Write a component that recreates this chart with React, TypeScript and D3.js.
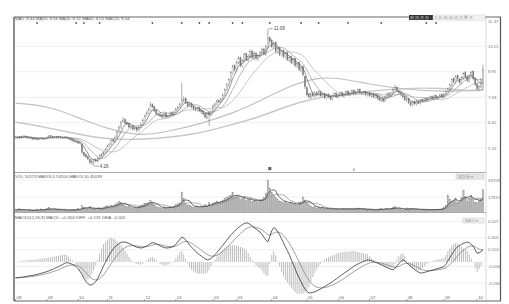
import React from 'react';
import * as d3 from 'd3';

// daily candles (Aug .. Oct)
const opens = [
  5.68,5.71,5.65,5.73,5.67,5.76,5.72,5.64,5.70,5.65, 5.59,5.64,5.57,5.63,5.67,5.60,5.65,5.69,5.77,5.73,
  5.67,5.72,5.66,5.74,5.70,5.64,5.71,5.67,5.63,5.59, 5.53,5.49,5.47,5.38,5.35,4.93,4.83,4.74,4.60,4.42,
  4.49,4.60,4.50,4.63,4.76,4.86,4.93,5.08,5.27,5.33, 5.58,5.48,5.68,5.93,6.18,6.48,6.58,6.42,6.38,6.18,
  6.27,6.08,6.18,6.02,6.18,6.33,6.52,6.78,6.88,7.02, 7.33,7.22,7.02,6.83,6.82,6.78,6.68,6.88,6.68,6.73,
  6.93,6.78,6.93,7.08,7.18,7.33,7.50,7.62,7.42,7.22, 7.38,7.22,7.12,7.02,7.18,7.03,6.97,6.88,6.65,6.93,
  6.78,6.92,7.22,7.33,7.52,7.43,7.58,7.78,8.02,8.28, 8.52,8.85,9.25,9.00,9.38,9.65,9.20,9.48,9.85,9.50,
  9.68,9.98,9.60,9.88,9.55,9.72,9.88,10.08,9.80,10.15, 10.65,10.50,10.15,10.40,9.90,10.15,9.75,10.00,9.65,9.90,
  9.50,9.70,9.35,9.60,9.20,9.40,9.00,9.20,8.70,8.15, 7.85,7.65,7.88,7.72,7.92,7.78,7.98,7.72,7.88,7.62,
  7.82,7.72,7.58,7.78,7.88,7.68,7.78,7.92,7.72,7.82, 7.98,7.78,7.88,8.02,7.82,7.92,8.08,7.92,7.82,7.98,
  7.78,7.92,7.72,7.88,7.68,7.82,7.68,7.52,7.62,7.48, 7.68,7.88,7.72,7.88,8.02,8.18,7.98,7.92,7.82,7.72,
  7.52,7.62,7.42,7.28,7.48,7.32,7.52,7.38,7.58,7.48, 7.62,7.52,7.62,7.72,7.58,7.78,7.62,7.72,7.82,7.68,
  7.82,7.98,8.08,8.28,8.60,8.42,8.75,8.58,8.38,8.62, 8.90,8.72,8.48,8.78,8.95,8.62,8.35,8.05,8.18,8.10,
];
const highs = [
  5.76,5.74,5.76,5.76,5.79,5.78,5.75,5.73,5.72,5.68, 5.66,5.67,5.65,5.70,5.69,5.67,5.74,5.80,5.79,5.75,
  5.75,5.74,5.77,5.76,5.72,5.73,5.73,5.69,5.66,5.62, 5.56,5.52,5.50,5.47,5.40,4.98,4.88,4.78,4.65,4.58,
  4.63,4.64,4.70,4.84,4.90,5.00,5.16,5.32,5.42,5.62, 5.62,5.78,6.02,6.28,6.52,6.68,6.62,6.48,6.42,6.32,
  6.32,6.22,6.22,6.26,6.42,6.62,6.82,6.98,7.14,7.45, 7.38,7.26,7.06,6.90,6.86,6.82,6.92,6.92,6.80,6.96,
  6.98,7.02,7.16,7.26,7.42,8.40,7.72,7.66,7.46,7.42, 7.42,7.26,7.16,7.22,7.22,7.08,7.00,6.92,6.96,6.98,
  7.02,7.32,7.42,7.58,7.56,7.66,7.88,8.12,8.38,8.62, 8.98,9.30,9.32,9.48,9.72,9.70,9.58,9.90,9.88,9.80,
  10.05,10.02,9.95,9.92,9.82,9.98,10.15,10.12,10.28,11.09, 10.70,10.58,10.45,10.45,10.20,10.20,10.02,10.05,9.92,9.95,
  9.72,9.75,9.62,9.65,9.42,9.45,9.22,9.25,8.75,8.22, 7.92,7.92,7.95,7.98,7.98,8.02,8.02,7.92,7.92,7.88,
  7.88,7.78,7.80,7.92,7.92,7.86,7.96,7.96,7.90,8.00, 8.04,7.96,8.06,8.08,8.00,8.10,8.12,7.96,8.00,8.02,
  7.96,7.96,7.90,7.92,7.86,7.88,7.72,7.66,7.66,7.76, 7.92,7.92,7.96,8.12,8.30,8.22,8.04,7.96,7.86,7.76,
  7.66,7.66,7.46,7.52,7.52,7.56,7.56,7.60,7.62,7.66, 7.68,7.70,7.76,7.76,7.80,7.82,7.74,7.86,7.86,7.90,
  8.00,8.16,8.36,8.62,8.66,8.78,8.82,8.65,8.72,8.92, 8.98,8.78,8.82,8.98,9.02,8.68,8.40,8.28,8.62,9.30,
];
const lows = [
  5.62,5.60,5.62,5.62,5.64,5.66,5.62,5.60,5.58,5.55, 5.55,5.54,5.54,5.60,5.57,5.58,5.62,5.66,5.68,5.64,
  5.64,5.62,5.62,5.64,5.60,5.62,5.62,5.58,5.54,5.48, 5.44,5.42,5.36,5.34,4.88,4.72,4.66,4.55,4.36,4.32,
  4.26,4.46,4.46,4.60,4.72,4.80,4.88,5.04,5.22,5.28, 5.42,5.44,5.64,5.88,6.12,6.42,6.32,6.28,6.14,6.12,
  6.02,6.04,5.95,5.98,6.14,6.28,6.48,6.72,6.84,6.98, 7.12,6.94,6.78,6.74,6.68,6.62,6.64,6.62,6.64,6.68,
  6.74,6.74,6.88,7.02,7.14,7.28,7.42,7.34,7.18,7.18, 7.12,7.02,6.98,6.98,6.94,6.88,6.78,6.62,6.60,6.25,
  6.72,6.88,7.18,7.28,7.38,7.38,7.54,7.74,7.98,8.22, 8.46,8.80,8.96,8.96,9.32,9.18,9.14,9.42,9.48,9.44,
  9.62,9.58,9.54,9.52,9.50,9.66,9.82,9.78,9.74,10.08, 10.30,10.12,10.08,9.88,9.84,9.72,9.70,9.62,9.60,9.48,
  9.44,9.34,9.30,9.18,9.14,8.98,8.94,8.72,8.10,7.72, 7.62,7.60,7.68,7.66,7.74,7.72,7.70,7.66,7.60,7.56,
  7.64,7.54,7.52,7.72,7.64,7.62,7.72,7.70,7.66,7.76, 7.74,7.74,7.82,7.80,7.78,7.88,7.84,7.80,7.78,7.76,
  7.72,7.70,7.66,7.64,7.62,7.58,7.48,7.44,7.42,7.44, 7.62,7.70,7.68,7.84,7.98,7.94,7.84,7.74,7.62,7.50,
  7.44,7.34,7.22,7.24,7.30,7.26,7.34,7.32,7.44,7.42, 7.48,7.46,7.58,7.54,7.52,7.60,7.56,7.66,7.64,7.62,
  7.78,7.92,8.02,8.22,8.38,8.36,8.52,8.32,8.32,8.56, 8.62,8.44,8.42,8.72,8.52,8.24,8.02,7.98,8.12,8.04,
];
const closes = [
  5.70,5.66,5.72,5.68,5.75,5.71,5.66,5.69,5.64,5.60, 5.63,5.58,5.62,5.66,5.61,5.64,5.70,5.76,5.72,5.68,
  5.71,5.67,5.73,5.69,5.65,5.70,5.66,5.62,5.58,5.52, 5.48,5.46,5.40,5.43,4.95,4.80,4.72,4.62,4.45,4.50,
  4.58,4.52,4.65,4.78,4.85,4.95,5.10,5.25,5.35,5.55, 5.50,5.70,5.95,6.20,6.45,6.55,6.40,6.35,6.20,6.25,
  6.10,6.15,6.05,6.20,6.35,6.55,6.75,6.90,7.05,7.30, 7.20,7.00,6.85,6.80,6.75,6.70,6.85,6.70,6.75,6.90,
  6.80,6.95,7.10,7.20,7.35,7.55,7.60,7.40,7.25,7.35, 7.20,7.10,7.05,7.15,7.00,6.95,6.85,6.70,6.90,6.80,
  6.95,7.25,7.35,7.50,7.45,7.60,7.80,8.05,8.30,8.55, 8.90,9.20,9.05,9.40,9.60,9.25,9.50,9.80,9.55,9.70,
  9.95,9.65,9.85,9.60,9.75,9.90,10.05,9.85,10.20,10.60, 10.45,10.20,10.35,9.95,10.10,9.80,9.95,9.70,9.85,9.55,
  9.65,9.40,9.55,9.25,9.35,9.05,9.15,8.80,8.20,7.80, 7.70,7.85,7.75,7.90,7.80,7.95,7.75,7.85,7.65,7.80,
  7.70,7.60,7.75,7.85,7.70,7.80,7.90,7.75,7.85,7.95, 7.80,7.90,8.00,7.85,7.95,8.05,7.90,7.85,7.95,7.80,
  7.90,7.75,7.85,7.70,7.80,7.65,7.55,7.60,7.50,7.70, 7.85,7.75,7.90,8.05,8.15,8.00,7.90,7.80,7.70,7.55,
  7.60,7.40,7.30,7.45,7.35,7.50,7.40,7.55,7.50,7.60, 7.55,7.65,7.70,7.60,7.75,7.65,7.70,7.80,7.70,7.85,
  7.95,8.10,8.30,8.55,8.45,8.70,8.60,8.40,8.65,8.85, 8.70,8.50,8.75,8.90,8.60,8.30,8.10,8.20,8.55,9.05,
];
const volumes = [
  6200,5400,7100,5800,6600,5200,4900,6300,5600,5100, 5800,6700,5300,6900,5500,6100,7400,8200,6800,5900,
  6400,5700,6800,6200,5400,6000,5600,5200,5900,6500, 6100,5800,7200,6600,9800,8400,7600,6900,8800,7400,
  6800,6300,7100,7800,6900,8200,9100,9800,8600,10400, 9200,10800,12400,13600,12800,11200,9600,8800,9400,8200,
  7800,8400,7600,8900,9700,10600,11800,12200,12900,14800, 12600,10200,8900,8400,7900,7200,8600,7700,8100,9200,
  8400,9600,10800,11600,12400,22600,16800,12200,10400,9800, 9200,8400,8800,9600,8200,8900,9400,10800,9600,12800,
  10600,12400,13200,14200,12800,13600,15200,16400,17200,18400, 19600,22400,17800,19200,18600,15800,16900,17600,14800,15600,
  16200,13800,14600,15200,13400,14800,15600,17800,21600,33700, 26400,21800,19600,17200,15400,14200,13600,12800,13800,12200,
  11600,12600,10800,11200,10200,12800,13400,18000,15200,12400, 10800,9600,8400,8900,7800,8200,7400,7900,6800,7200,
  6600,7100,6400,6900,7300,6200,6700,7600,6500,7000, 6300,6800,7400,6600,7100,7800,6400,6900,6200,6700,
  5900,6400,5800,6300,5600,6100,6900,7400,6500,6800, 7200,6600,7400,8200,8800,7600,6800,6200,5800,6400,
  7800,6900,7400,6600,6100,6800,6300,5900,6400,5700, 6200,5800,6600,6100,5700,6300,6800,6400,7200,8600,
  10200,19800,15600,13800,14600,16800,12400,13200,17600,24400, 18600,14200,16800,19400,15600,13200,12800,14600,16400,24600,
];

// MACD DIF per candle
const difVals = [
  -0.200,-0.198,-0.195,-0.192,-0.188,-0.184,-0.180,-0.176,-0.172,-0.168, -0.163,-0.157,-0.150,-0.144,-0.137,-0.130,-0.122,-0.113,-0.103,-0.093,
  -0.082,-0.071,-0.060,-0.046,-0.033,-0.020,-0.010,-0.012,-0.020,-0.030, -0.042,-0.060,-0.085,-0.118,-0.160,-0.205,-0.245,-0.272,-0.290,-0.288,
  -0.272,-0.248,-0.210,-0.160,-0.105,-0.050,-0.005,0.045,0.090,0.130, 0.165,0.192,0.212,0.232,0.245,0.250,0.248,0.242,0.232,0.220,
  0.207,0.195,0.186,0.179,0.175,0.178,0.188,0.200,0.215,0.230, 0.240,0.238,0.228,0.215,0.202,0.190,0.180,0.175,0.176,0.180,
  0.188,0.200,0.222,0.250,0.282,0.310,0.300,0.275,0.245,0.212, 0.185,0.160,0.135,0.110,0.090,0.072,0.055,0.038,0.025,0.030,
  0.045,0.066,0.090,0.118,0.148,0.180,0.210,0.240,0.272,0.305, 0.335,0.360,0.385,0.410,0.432,0.450,0.468,0.482,0.490,0.485,
  0.470,0.450,0.430,0.412,0.393,0.375,0.345,0.310,0.275,0.250, 0.320,0.390,0.430,0.415,0.380,0.340,0.290,0.240,0.190,0.140,
  0.090,0.030,-0.030,-0.090,-0.150,-0.200,-0.250,-0.300,-0.340,-0.370, -0.390,-0.388,-0.383,-0.375,-0.365,-0.352,-0.338,-0.323,-0.310,-0.295,
  -0.280,-0.265,-0.250,-0.232,-0.214,-0.196,-0.178,-0.160,-0.142,-0.125, -0.108,-0.090,-0.072,-0.055,-0.040,-0.028,-0.016,-0.005,0.006,0.016,
  0.025,0.022,0.015,0.006,-0.004,-0.015,-0.025,-0.036,-0.048,-0.060, -0.072,-0.083,-0.092,-0.100,-0.080,-0.050,-0.020,0.005,0.025,0.015,
  -0.010,-0.035,-0.058,-0.075,-0.095,-0.112,-0.128,-0.140,-0.138,-0.132, -0.125,-0.118,-0.110,-0.104,-0.097,-0.090,-0.083,-0.076,-0.068,-0.060,
  -0.030,0.010,0.050,0.090,0.130,0.165,0.190,0.205,0.220,0.232, 0.242,0.250,0.240,0.220,0.195,0.150,0.110,0.115,0.130,0.150,
];
const deaStart = -0.2;

// long moving averages, read at a few dates
const ma60Idx = [0, 18, 35, 49, 64, 79, 94, 110, 125, 140, 154, 166, 181, 197, 219, 239];
const ma60Val = [7.39, 7.24, 6.54, 6.05, 5.75, 6.0, 6.35, 6.84, 7.49, 8.24, 8.68, 8.63, 8.33, 8.09, 7.94, 8.05];
const ma120Idx = [0, 18, 43, 64, 94, 111, 125, 146, 171, 197, 219, 231, 239];
const ma120Val = [6.45, 6.15, 5.6, 5.55, 5.85, 6.35, 6.69, 7.54, 7.89, 8.14, 8.14, 7.99, 8.04];

const monthLabels = ['08', '09', '10', '11', '12', '01', '02', '03', '04', '05', '06', '07', '08', '09', '10'];
const monthStart = [0, 16, 32, 47, 66, 82, 101, 113, 131, 149, 165, 181, 200, 219, 236];
const eventIdx = [11, 31, 35, 43, 70, 85, 94, 99, 111, 116, 130, 146, 155, 170, 187, 210, 215];
const flagIdx = [130, 173];

const priceTicks = [11.47, 10.21, 8.95, 7.68, 6.42, 5.16];
const volTicks = [33709, 17915];
const macdTicks = [0.507, 0.302, 0.153, -0.056, -0.265];

const font = 'Liberation Sans, Arial, sans-serif';

const movAvg = (arr: number[], n: number) =>
  arr.map((_, i) => d3.mean(arr.slice(Math.max(0, i - n + 1), i + 1)) as number);

const ema = (arr: number[], n: number, start: number) => {
  const k = 2 / (n + 1);
  let prev = start;
  return arr.map((v, i) => (i === 0 ? prev : (prev = prev + k * (v - prev))));
};

export default function App() {
  const N = closes.length;
  const left = 14, right = 486, top = 17, bottom = 301;
  const priceBottom = 172.5, volBottom = 212.5;

  const x = d3.scaleLinear().domain([0, N - 1]).range([15.5, 483]);
  const yP = d3.scaleLinear().domain([5.16, 11.47]).range([148, 21]);
  const yV = d3.scaleLinear().domain([17915, 33709]).range([197, 180]);
  const yM = d3.scaleLinear().domain([-0.265, 0.507]).range([283, 221.5]);

  const ma5 = movAvg(closes, 5);
  const ma10 = movAvg(closes, 10);
  const ma20 = movAvg(closes, 20);
  const vma5 = movAvg(volumes, 5);
  const vma10 = movAvg(volumes, 10);

  const dif = difVals;
  const dea = ema(dif, 9, deaStart);
  const hist = dif.map((v, i) => 2 * (v - dea[i]));

  const lineIdx = (ys: (v: number) => number) =>
    d3.line<number>().x((_, i) => x(i)).y((d) => ys(d));
  const smooth = (idx: number[]) =>
    d3.line<number>().x((_, i) => x(idx[i])).y((d) => yP(d)).curve(d3.curveBasis);

  const hiIdx = d3.maxIndex(highs);
  const loIdx = d3.minIndex(lows);

  return (
    <svg width={509} height={304} style={{ position: 'absolute', left: 0, top: 0, background: '#fff' }}
      fontFamily={font}>
      <defs>
        <clipPath id="cp"><rect x={left} y={top} width={right - left} height={priceBottom - top} /></clipPath>
        <clipPath id="cv"><rect x={left} y={priceBottom} width={right - left} height={volBottom - priceBottom} /></clipPath>
        <clipPath id="cm"><rect x={left} y={volBottom} width={right - left} height={bottom - volBottom} /></clipPath>
      </defs>

      {/* grid */}
      {priceTicks.map((t) => (
        <line key={'gp' + t} x1={left} x2={right} y1={yP(t)} y2={yP(t)} stroke="#ececec" strokeWidth={0.8} />
      ))}
      {volTicks.map((t) => (
        <line key={'gv' + t} x1={left} x2={right} y1={yV(t)} y2={yV(t)} stroke="#ececec" strokeWidth={0.8} />
      ))}
      {macdTicks.map((t) => (
        <line key={'gm' + t} x1={left} x2={right} y1={yM(t)} y2={yM(t)} stroke="#ececec" strokeWidth={0.8} />
      ))}

      {/* price panel */}
      <g clipPath="url(#cp)">
        <path d={smooth(ma120Idx)(ma120Val) || ''} fill="none" stroke="#c8c8c8" strokeWidth={1.4} />
        <path d={smooth(ma60Idx)(ma60Val) || ''} fill="none" stroke="#c0c0c0" strokeWidth={1.2} />
        {closes.map((c, i) => {
          const o = opens[i];
          const up = c >= o;
          const y0 = yP(Math.max(o, c));
          const y1 = yP(Math.min(o, c));
          return (
            <g key={i}>
              <line x1={x(i)} x2={x(i)} y1={yP(highs[i])} y2={yP(lows[i])} stroke="#777" strokeWidth={0.6} />
              <rect x={x(i) - 0.55} y={y0} width={1.1} height={Math.max(0.5, y1 - y0)}
                fill={up ? '#fff' : '#777'} stroke="#777" strokeWidth={0.3} />
            </g>
          );
        })}
        <path d={lineIdx(yP)(ma20) || ''} fill="none" stroke="#b0b0b0" strokeWidth={0.7} />
        <path d={lineIdx(yP)(ma10) || ''} fill="none" stroke="#999" strokeWidth={0.7} />
        <path d={lineIdx(yP)(ma5) || ''} fill="none" stroke="#666" strokeWidth={0.7} />
      </g>
      {/* high / low marks */}
      <line x1={x(hiIdx) + 1} x2={x(hiIdx) + 5} y1={yP(highs[hiIdx])} y2={yP(highs[hiIdx])} stroke="#555" strokeWidth={0.5} />
      <text x={x(hiIdx) + 6} y={yP(highs[hiIdx]) + 1.5} fontSize={4.5} fill="#444">{highs[hiIdx].toFixed(2)}</text>
      <line x1={x(loIdx) + 1} x2={x(loIdx) + 5} y1={yP(lows[loIdx])} y2={yP(lows[loIdx])} stroke="#555" strokeWidth={0.5} />
      <text x={x(loIdx) + 6} y={yP(lows[loIdx]) + 1.5} fontSize={4.5} fill="#444">{lows[loIdx].toFixed(2)}</text>

      {/* event markers */}
      {eventIdx.map((i) => (
        <circle key={'ev' + i} cx={x(i)} cy={23} r={0.9} fill="#555" />
      ))}
      <rect x={x(flagIdx[0]) - 1.6} y={167} width={3.2} height={3.2} fill="#666" />
      <text x={x(flagIdx[1])} y={171} fontSize={4} fill="#666" textAnchor="middle">6</text>

      {/* volume panel */}
      <g clipPath="url(#cv)">
        {volumes.map((v, i) => (
          <rect key={'v' + i} x={x(i) - 0.7} y={yV(v)} width={1.4} height={Math.max(0, volBottom - yV(v))}
            fill="#b4b4b4" stroke="#888" strokeWidth={0.3} />
        ))}
        <path d={lineIdx(yV)(vma10) || ''} fill="none" stroke="#999" strokeWidth={0.8} />
        <path d={lineIdx(yV)(vma5) || ''} fill="none" stroke="#444" strokeWidth={0.8} />
      </g>

      {/* macd panel */}
      <g clipPath="url(#cm)">
        {hist.map((h, i) => (
          <line key={'h' + i} x1={x(i)} x2={x(i)} y1={yM(0)} y2={yM(h)} stroke="#a0a0a0" strokeWidth={0.7} />
        ))}
        <path d={lineIdx(yM)(dea) || ''} fill="none" stroke="#888" strokeWidth={0.8} />
        <path d={lineIdx(yM)(dif) || ''} fill="none" stroke="#333" strokeWidth={0.8} />
      </g>

      {/* frame */}
      <line x1={right} x2={right} y1={top} y2={bottom} stroke="#cfcfcf" strokeWidth={0.8} />
      <line x1={left} x2={right} y1={priceBottom} y2={priceBottom} stroke="#aaa" strokeWidth={1.2} />
      <line x1={left} x2={right} y1={volBottom} y2={volBottom} stroke="#aaa" strokeWidth={1.2} />
      <line x1={left} x2={501} y1={top} y2={top} stroke="#666" strokeWidth={1.2} />
      <line x1={left} x2={left} y1={top} y2={bottom} stroke="#666" strokeWidth={1.5} />
      <line x1={500.5} x2={500.5} y1={top} y2={bottom} stroke="#555" strokeWidth={1.2} />
      <line x1={left} x2={501} y1={bottom} y2={bottom} stroke="#666" strokeWidth={1.2} />

      {/* axis labels */}
      {priceTicks.map((t) => (
        <text key={'tp' + t} x={488} y={yP(t) + 1.5} fontSize={4.3} fill="#777">{t.toFixed(2)}</text>
      ))}
      {volTicks.map((t) => (
        <text key={'tv' + t} x={488} y={yV(t) + 1.5} fontSize={4.3} fill="#777">{t}</text>
      ))}
      {macdTicks.map((t) => (
        <text key={'tm' + t} x={488} y={yM(t) + 1.5} fontSize={4.3} fill="#777">{t.toFixed(3)}</text>
      ))}
      {monthStart.map((i, k) => (
        <g key={'mx' + k}>
          <line x1={x(i)} x2={x(i)} y1={bottom - 2} y2={bottom} stroke="#777" strokeWidth={0.6} />
          <text x={x(i) + 1} y={bottom - 2.5} fontSize={4.3} fill="#666">{monthLabels[k]}</text>
        </g>
      ))}

      {/* panel titles */}
      <text x={15} y={19.5} fontSize={4.3} fill="#555">
        MA5: {ma5[N - 1].toFixed(2)}  MA10: {ma10[N - 1].toFixed(2)}  MA20: {ma20[N - 1].toFixed(2)}  MA60: 8.05  MA120: 8.04
      </text>
      <text x={15} y={177.5} fontSize={4.3} fill="#555">VOL 10173  MAVOL5 53100  MAVOL10 45039</text>
      <text x={15} y={218.5} fontSize={4.3} fill="#555">MACD(12,26,9)  MACD: +0.264  DIFF: +0.131  DEA: -0.002</text>

      {/* toolbar */}
      <rect x={409} y={15} width={24} height={5} fill="#333" />
      <text x={410} y={19} fontSize={3.8} fill="#eee">日 周 月 分</text>
      <rect x={433} y={15} width={52} height={5} fill="#f2f2f2" stroke="#ccc" strokeWidth={0.4} />
      <text x={435} y={19} fontSize={3.8} fill="#888">5 15 30 60 周 月 季 年</text>
      <rect x={456} y={174} width={28} height={5} fill="#e6e6e6" stroke="#bbb" strokeWidth={0.4} />
      <text x={458} y={178} fontSize={3.5} fill="#999">成交量 ▾</text>
      <rect x={463} y={218} width={21} height={5} fill="#f0f0f0" stroke="#bbb" strokeWidth={0.4} />
      <text x={465} y={222} fontSize={3.5} fill="#999">MACD ▾</text>
    </svg>
  );
}
